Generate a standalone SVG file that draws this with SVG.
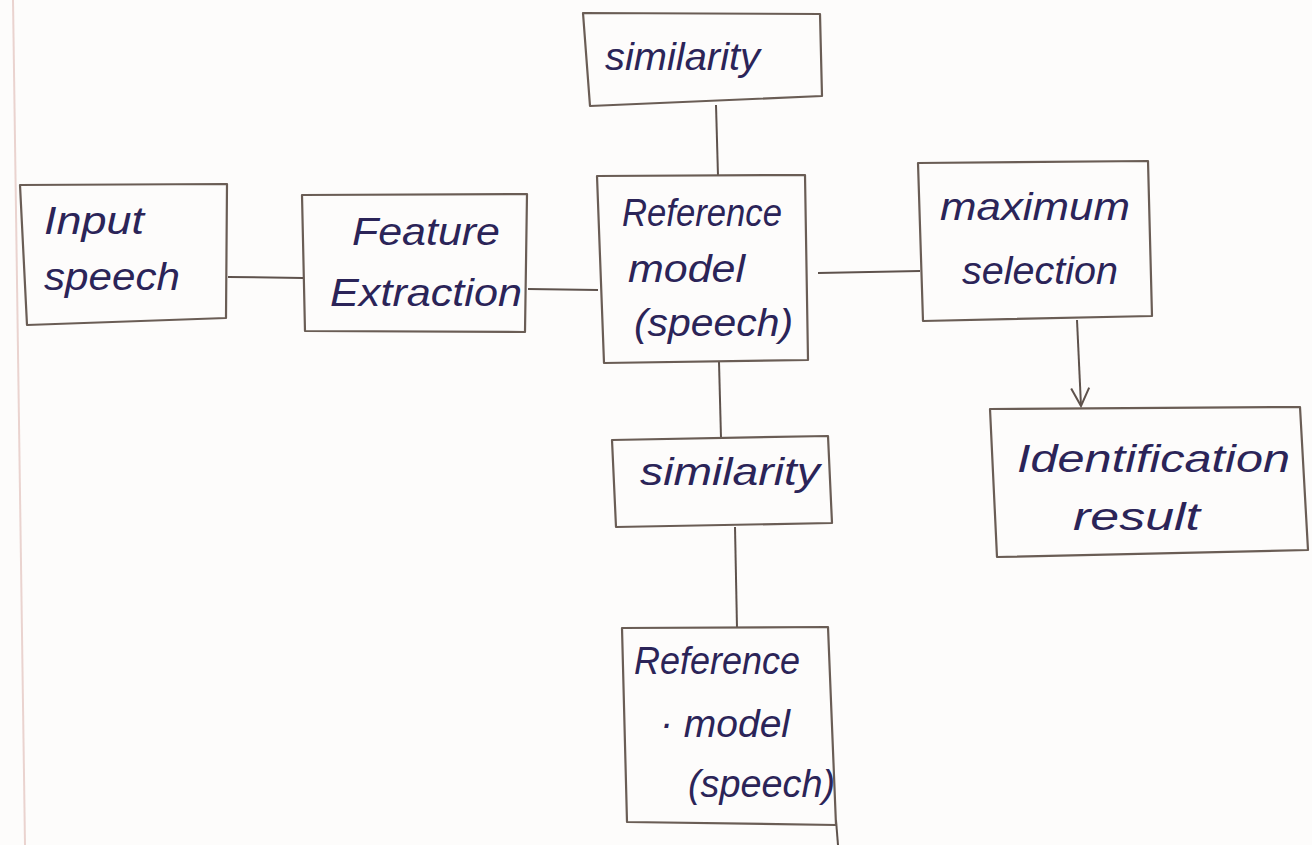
<svg xmlns="http://www.w3.org/2000/svg" width="1312" height="845" viewBox="0 0 1312 845">
  <style>
    .box { fill: none; stroke: #6a5d55; stroke-width: 2.2; stroke-linejoin: round; }
    .wire { fill: none; stroke: #5e524c; stroke-width: 2; }
    .lbl { font-family: "Liberation Sans", "DejaVu Sans", sans-serif; font-size: 38px; fill: #2b2458; font-style: italic; }
    .margin { stroke: #ead3cf; stroke-width: 2; }
  </style>
  <defs>
    <marker id="vhead" viewBox="0 0 24 24" refX="22" refY="12" markerWidth="24" markerHeight="24" markerUnits="userSpaceOnUse" orient="auto">
      <path d="M4,3 L22,12 L4,21" fill="none" stroke="#5e524c" stroke-width="2"/>
    </marker>
  </defs>

  <rect width="1312" height="845" fill="#fdfcfb"/>
  <!-- notebook margin rule -->
  <line class="margin" x1="13" y1="0" x2="25" y2="845"/>

  <g id="connectors">
    <line class="wire" x1="228" y1="277" x2="303" y2="278"/>
    <line class="wire" x1="528" y1="289" x2="598" y2="290"/>
    <line class="wire" x1="716" y1="105" x2="718" y2="176"/>
    <line class="wire" x1="818" y1="273" x2="920" y2="271"/>
    <line class="wire" x1="1077" y1="320" x2="1081" y2="406" marker-end="url(#vhead)"/>
    <line class="wire" x1="719" y1="362" x2="721" y2="438"/>
    <line class="wire" x1="735" y1="527" x2="737" y2="628"/>
    <line class="wire" x1="836" y1="820" x2="838" y2="845"/>
  </g>

  <g id="input-speech">
    <path class="box" d="M20,185 L227,184 L226,318 L27,325 Z"/>
    <text class="lbl" x="44" y="234" textLength="100" lengthAdjust="spacingAndGlyphs">Input</text>
    <text class="lbl" x="44" y="290" textLength="136" lengthAdjust="spacingAndGlyphs">speech</text>
  </g>

  <g id="feature-extraction">
    <path class="box" d="M302,195 L527,194 L525,332 L305,331 Z"/>
    <text class="lbl" x="352" y="245" textLength="148" lengthAdjust="spacingAndGlyphs">Feature</text>
    <text class="lbl" x="330" y="306" textLength="192" lengthAdjust="spacingAndGlyphs">Extraction</text>
  </g>

  <g id="similarity-top">
    <path class="box" d="M583,13 L820,14 L822,96 L590,106 Z"/>
    <text class="lbl" x="605" y="70" textLength="155" lengthAdjust="spacingAndGlyphs">similarity</text>
  </g>

  <g id="reference-model">
    <path class="box" d="M597,176 L805,175 L808,360 L604,363 Z"/>
    <text class="lbl" x="622" y="226" textLength="160" lengthAdjust="spacingAndGlyphs">Reference</text>
    <text class="lbl" x="628" y="282" textLength="117" lengthAdjust="spacingAndGlyphs">model</text>
    <text class="lbl" x="634" y="336" textLength="159" lengthAdjust="spacingAndGlyphs">(speech)</text>
  </g>

  <g id="maximum-selection">
    <path class="box" d="M918,163 L1148,161 L1152,316 L923,321 Z"/>
    <text class="lbl" x="940" y="220" textLength="190" lengthAdjust="spacingAndGlyphs">maximum</text>
    <text class="lbl" x="962" y="284" textLength="156" lengthAdjust="spacingAndGlyphs">selection</text>
  </g>

  <g id="identification-result">
    <path class="box" d="M990,409 L1300,407 L1308,550 L997,557 Z"/>
    <text class="lbl" x="1017" y="472" textLength="273" lengthAdjust="spacingAndGlyphs">Identification</text>
    <text class="lbl" x="1073" y="530" textLength="127" lengthAdjust="spacingAndGlyphs">result</text>
  </g>

  <g id="similarity-bottom">
    <path class="box" d="M612,440 L828,436 L832,523 L616,527 Z"/>
    <text class="lbl" x="640" y="485" textLength="180" lengthAdjust="spacingAndGlyphs">similarity</text>
  </g>

  <g id="reference-model-2">
    <path class="box" d="M622,628 L828,627 L836,825 L627,822 Z"/>
    <text class="lbl" x="634" y="674" textLength="166" lengthAdjust="spacingAndGlyphs">Reference</text>
    <text class="lbl" x="660" y="737" textLength="130" lengthAdjust="spacingAndGlyphs">· model</text>
    <text class="lbl" x="688" y="797" textLength="147" lengthAdjust="spacingAndGlyphs">(speech)</text>
  </g>
</svg>
